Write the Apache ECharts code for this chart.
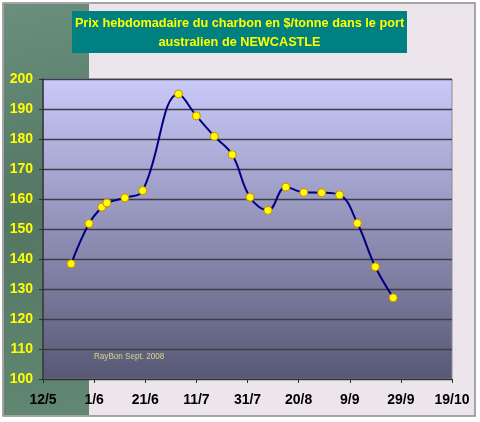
<!DOCTYPE html>
<html>
<head>
<meta charset="utf-8">
<script src="https://cdn.jsdelivr.net/npm/echarts@6/dist/echarts.min.js"></script>
<style>
html,body{margin:0;padding:0;background:#fff;}
#chart{width:480px;height:422px;}
</style>
</head>
<body>
<div id="chart"></div>
<script>
// ---- data ----
const startDate = '2008-05-12';
const dates = ['2008-05-23','2008-05-30','2008-06-04','2008-06-06','2008-06-13','2008-06-20','2008-07-04','2008-07-11','2008-07-18','2008-07-25','2008-08-01','2008-08-08','2008-08-15','2008-08-22','2008-08-29','2008-09-05','2008-09-12','2008-09-19','2008-09-26'];
const prices = [138.4,151.8,157.3,158.7,160.4,162.8,195.0,187.7,180.9,174.8,160.6,156.2,164.0,162.2,162.1,161.4,151.9,137.4,127.1];
const titleLines = ['Prix hebdomadaire du charbon en $/tonne dans le port', 'australien de NEWCASTLE'];
const credit = 'RayBon Sept. 2008';

const DAY = 86400000;
const t0 = Date.parse(startDate + 'T00:00:00Z');
const dayOffset = d => Math.round((Date.parse(d + 'T00:00:00Z') - t0) / DAY);
const seriesData = dates.map((d, i) => [dayOffset(d), prices[i]]);
const fmtDay = v => { const dt = new Date(t0 + v * DAY); return dt.getUTCDate() + '/' + (dt.getUTCMonth() + 1); };

const chart = echarts.init(document.getElementById('chart'));
chart.setOption({
  backgroundColor: '#ffffff',
  animation: false,
  graphic: [
    { type: 'rect', z: -100, silent: true, shape: { x: 3, y: 3, width: 472, height: 413 },
      style: { fill: '#ece5ec', stroke: '#8a8a8a', lineWidth: 1.5 } },
    { type: 'rect', z: -99, silent: true, shape: { x: 4, y: 4, width: 85, height: 411 },
      style: { fill: { type: 'linear', x: 0, y: 0, x2: 1, y2: 1, colorStops: [
        { offset: 0, color: '#6a8f7d' }, { offset: 0.5, color: '#527662' }, { offset: 1, color: '#628874' } ] } } },
    { type: 'rect', z: 50, silent: true, shape: { x: 72, y: 11, width: 335, height: 42 },
      style: { fill: '#008080' } },
    { type: 'text', z: 51, silent: true, x: 239.5, y: 17,
      style: { text: titleLines[0], fill: '#ffff00', font: 'bold 12.7px "Liberation Sans", Arial, sans-serif', textAlign: 'center' } },
    { type: 'text', z: 51, silent: true, x: 239.5, y: 36,
      style: { text: titleLines[1], fill: '#ffff00', font: 'bold 12.7px "Liberation Sans", Arial, sans-serif', textAlign: 'center' } },
    { type: 'text', z: 51, silent: true, x: 94, y: 352, scaleX: 0.9,
      style: { text: credit, fill: '#d6d68a', font: '9px "Liberation Sans", sans-serif' } }
  ],
  grid: {
    left: 43, right: 28, top: 79, bottom: 43,
    show: true,
    borderColor: '#8a8a90', borderWidth: 1,
    backgroundColor: { type: 'linear', x: 0, y: 0, x2: 0, y2: 1, colorStops: [
      { offset: 0, color: '#cacafa' }, { offset: 1, color: '#575874' } ] }
  },
  xAxis: {
    type: 'value', min: 0, max: 160, interval: 20,
    axisLine: { show: true, lineStyle: { color: '#303030', width: 1 } },
    axisTick: { show: true, length: 4, inside: false, lineStyle: { color: '#303030' } },
    splitLine: { show: false },
    axisLabel: { formatter: fmtDay, color: '#000', fontWeight: 'bold', fontSize: 14, margin: 14,
      fontFamily: '"Liberation Sans", Arial, sans-serif' }
  },
  yAxis: {
    type: 'value', min: 100, max: 200, interval: 10,
    axisLine: { show: true, lineStyle: { color: '#303030', width: 1.5 } },
    axisTick: { show: true, length: 4, lineStyle: { color: '#303030' } },
    splitLine: { show: true, lineStyle: { color: '#3c3c4c', width: 1.3 } },
    axisLabel: { color: '#ffff00', fontWeight: 'bold', fontSize: 14, margin: 10,
      fontFamily: '"Liberation Sans", Arial, sans-serif' }
  },
  series: [{
    type: 'line',
    data: seriesData,
    smooth: 0.4,
    symbol: 'circle',
    symbolSize: 8,
    lineStyle: { color: '#000080', width: 2 },
    itemStyle: { color: '#ffff00', borderColor: '#d08a00', borderWidth: 1 },
    z: 10
  }]
});
</script>
</body>
</html>
